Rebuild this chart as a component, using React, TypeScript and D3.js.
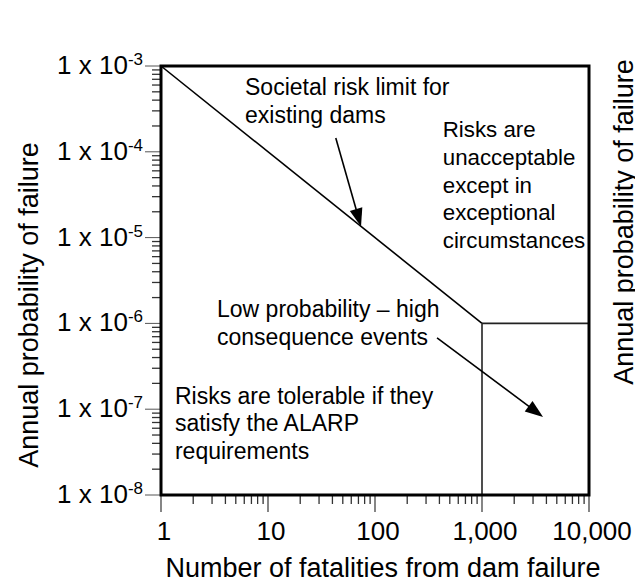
import React from "react";
import * as d3 from "d3";

// ---- data ----
const xDomain = [1, 10000];
const yDomain = [1e-8, 1e-3];
const xMajorTicks = [1, 10, 100, 1000, 10000];
const xTickLabels = ["1", "10", "100", "1,000", "10,000"];
const yMajorExps = [-3, -4, -5, -6, -7, -8];
// societal risk limit: diagonal, then ALARP box lines
const limitLine: [number, number][] = [[1, 1e-3], [1000, 1e-6]];
const alarpVertical: [number, number][] = [[1000, 1e-6], [1000, 1e-8]];
const alarpHorizontal: [number, number][] = [[1000, 1e-6], [10000, 1e-6]];
const arrow1: [number, number][] = [[43, 1.45e-4], [74, 1.35e-5]];
const arrow2: [number, number][] = [[380, 6.8e-7], [3720, 8.1e-8]];

const noteSocietal = ["Societal risk limit for", "existing dams"];
const noteUnacceptable = ["Risks are", "unacceptable", "except in", "exceptional", "circumstances"];
const noteLowProb = ["Low probability \u2013 high", "consequence events"];
const noteTolerable = ["Risks are tolerable if they", "satisfy the ALARP", "requirements"];
const noteSocietalPos: [number, number] = [6.1, 4.6e-4];
const noteUnacceptablePos: [number, number] = [430, 1.49e-4];
const noteLowProbPos: [number, number] = [3.34, 1.19e-6];
const noteTolerablePos: [number, number] = [1.35, 1.15e-7];

const xTitle = "Number of fatalities from dam failure";
const yTitle = "Annual probability of failure";

const W = 635;
const H = 583;
const FONT = "'Liberation Sans', Arial, sans-serif";

export default function App() {
  const x = d3.scaleLog().domain(xDomain).range([161, 589]);
  const y = d3.scaleLog().domain(yDomain).range([495, 66]);
  const line = d3.line<[number, number]>().x((d) => x(d[0])).y((d) => y(d[1]));

  const xMinor: number[] = [];
  for (let d = 1; d < 10000; d *= 10) for (let k = 2; k <= 9; k++) xMinor.push(d * k);
  const yMinor: number[] = [];
  for (let e = -8; e < -3; e++) for (let k = 2; k <= 9; k++) yMinor.push(k * Math.pow(10, e));

  const arrowHead = (pts: [number, number][]) => {
    const [x0, y0] = [x(pts[0][0]), y(pts[0][1])];
    const [x1, y1] = [x(pts[1][0]), y(pts[1][1])];
    const a = Math.atan2(y1 - y0, x1 - x0);
    const L = 18, hw = 6.5;
    const bx = x1 - L * Math.cos(a), by = y1 - L * Math.sin(a);
    const px = -Math.sin(a) * hw, py = Math.cos(a) * hw;
    return {
      shaft: `M${x0},${y0}L${bx + 2 * Math.cos(a)},${by + 2 * Math.sin(a)}`,
      head: `M${x1},${y1}L${bx + px},${by + py}L${bx - px},${by - py}Z`,
    };
  };
  const a1 = arrowHead(arrow1);
  const a2 = arrowHead(arrow2);

  const block = (lines: string[], pos: [number, number], lh: number, fs: number) => (
    <text x={x(pos[0])} y={y(pos[1])} fontSize={fs} fontFamily={FONT} fill="#000">
      {lines.map((t, i) => (
        <tspan key={i} x={x(pos[0])} dy={i === 0 ? 0 : lh}>{t}</tspan>
      ))}
    </text>
  );

  return (
    <svg width={W} height={H} style={{ position: "absolute", left: 0, top: 0, background: "#fff" }}>
      <rect width={W} height={H} fill="#fff" />
      {/* minor ticks */}
      {xMinor.map((v) => (
        <line key={"xm" + v} x1={x(v)} x2={x(v)} y1={495} y2={504} stroke="#333" strokeWidth={1.3} />
      ))}
      {xMajorTicks.map((v) => (
        <line key={"xM" + v} x1={x(v)} x2={x(v)} y1={495} y2={512} stroke="#444" strokeWidth={1.3} />
      ))}
      {yMinor.map((v) => (
        <line key={"ym" + v} x1={152} x2={161} y1={y(v)} y2={y(v)} stroke="#333" strokeWidth={1.3} />
      ))}
      {yMajorExps.map((e) => (
        <line key={"yM" + e} x1={145} x2={161} y1={y(Math.pow(10, e))} y2={y(Math.pow(10, e))} stroke="#555" strokeWidth={1} />
      ))}
      {/* tick labels */}
      {xMajorTicks.map((v, i) => (
        <text key={"xl" + v} x={x(v) + 3} y={540} textAnchor="middle" fontSize={26} fontFamily={FONT} fill="#000">
          {xTickLabels[i]}
        </text>
      ))}
      {yMajorExps.map((e) => (
        <text key={"yl" + e} x={143} y={y(Math.pow(10, e)) + 8} textAnchor="end" fontSize={26} fontFamily={FONT} fill="#000">
          1 x 10<tspan dy={-9} fontSize={17}>{String(e)}</tspan>
        </text>
      ))}
      {/* region lines */}
      <path d={line(limitLine) || ""} fill="none" stroke="#000" strokeWidth={1.6} />
      <path d={line(alarpVertical) || ""} fill="none" stroke="#222" strokeWidth={1.6} />
      <path d={line(alarpHorizontal) || ""} fill="none" stroke="#222" strokeWidth={1.6} />
      {/* frame */}
      <rect x={x(1)} y={y(1e-3)} width={x(10000) - x(1)} height={y(1e-8) - y(1e-3)} fill="none" stroke="#000" strokeWidth={3} />
      {/* arrows */}
      <path d={a1.shaft} stroke="#000" strokeWidth={1.6} fill="none" />
      <path d={a1.head} fill="#000" />
      <path d={a2.shaft} stroke="#000" strokeWidth={1.6} fill="none" />
      <path d={a2.head} fill="#000" />
      {/* annotations */}
      {block(noteSocietal, noteSocietalPos, 28, 23)}
      {block(noteUnacceptable, noteUnacceptablePos, 27.8, 22.3)}
      {block(noteLowProb, noteLowProbPos, 28, 23)}
      {block(noteTolerable, noteTolerablePos, 27.5, 23)}
      {/* axis titles */}
      <text x={383} y={577} textAnchor="middle" fontSize={27} fontFamily={FONT} fill="#000">{xTitle}</text>
      <text transform={`translate(38,305) rotate(-90)`} textAnchor="middle" fontSize={27} fontFamily={FONT} fill="#000">{yTitle}</text>
      <text transform={`translate(633,222) rotate(-90)`} textAnchor="middle" fontSize={27} fontFamily={FONT} fill="#000">{yTitle}</text>
    </svg>
  );
}
